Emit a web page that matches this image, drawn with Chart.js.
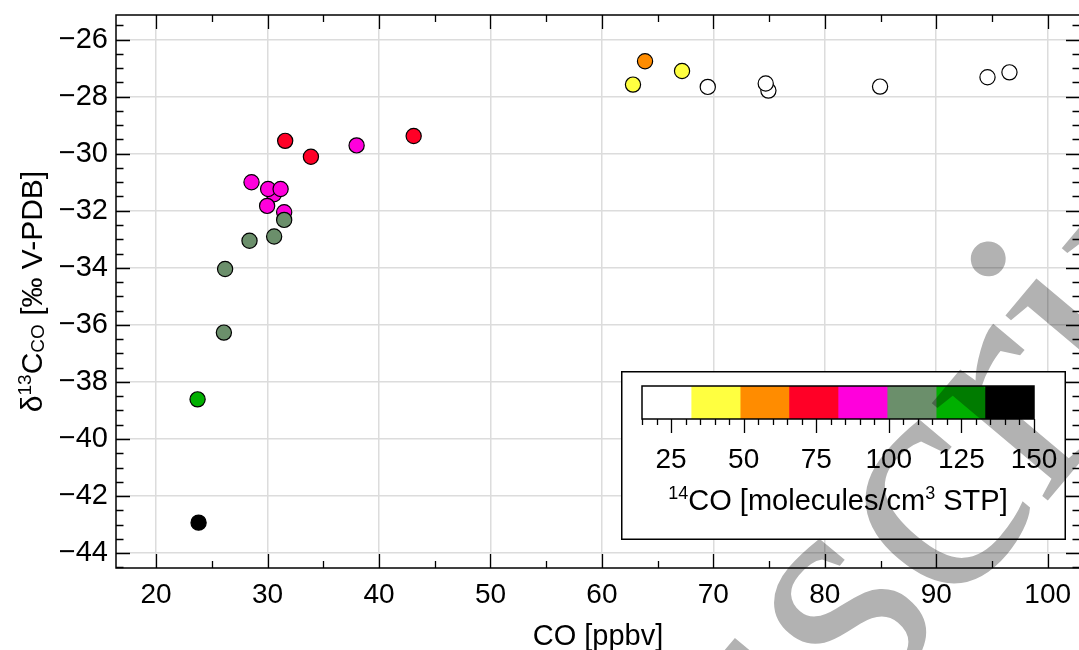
<!DOCTYPE html>
<html>
<head>
<meta charset="utf-8">
<script src="https://cdn.jsdelivr.net/npm/chart.js@4.4.1/dist/chart.umd.min.js"></script>
<style>
  html, body { margin: 0; padding: 0; background: #fff; overflow: hidden; }
  #wrap { position: relative; width: 1079px; height: 650px; overflow: hidden; background: #fff; }
  #main { position: absolute; left: 0; top: 0; }
  #bar { position: absolute; left: 621px; top: 371px; background: #fff; }
  #mark { position: absolute; left: 0; top: 0; mix-blend-mode: multiply; pointer-events: none; }
</style>
</head>
<body>
<div id="wrap">
  <canvas id="main" width="1090" height="650"></canvas>
  <canvas id="bar" width="445" height="169"></canvas>
  <canvas id="mark" width="1079" height="650"></canvas>
</div>
<script>
// CO mixing ratio [ppbv] and d13C of CO [permil V-PDB], one entry per sample
const coPpbv = [69.50, 74.94, 74.70, 84.96, 94.60, 96.57,
                62.79, 67.19,
                63.87,
                31.58, 33.89, 43.11,
                30.57, 28.56, 30.05, 31.17, 29.96, 31.49, 37.99,
                31.49, 30.59, 28.38, 26.19, 26.08,
                23.72,
                23.81];
const d13C = [-27.66, -27.79, -27.54, -27.65, -27.32, -27.15,
              -27.58, -27.10,
              -26.76,
              -29.55, -30.11, -29.38,
              -31.42, -31.00, -31.24, -31.24, -31.83, -32.05, -29.71,
              -32.32, -32.90, -33.05, -34.04, -36.27,
              -38.61,
              -42.93];
// 14CO colour class of each sample (index into classColors)
const c14Class = [0, 0, 0, 0, 0, 0,
                  1, 1,
                  2,
                  3, 3, 3,
                  4, 4, 4, 4, 4, 4, 4,
                  5, 5, 5, 5, 5,
                  6,
                  7];

const classEdges = [15, 31.9, 48.8, 65.6, 82.5, 99.4, 116.3, 133.1, 150];
const classColors = ['#ffffff', '#ffff40', '#ff8c00', '#ff0026', '#ff00dc', '#6b8f6b', '#00b000', '#000000'];

const xTicks = [20, 30, 40, 50, 60, 70, 80, 90, 100];
const yTicks = [-44, -42, -40, -38, -36, -34, -32, -30, -28, -26];
const barTicks = [25, 50, 75, 100, 125, 150];

const FONT = '"Liberation Sans", Arial, Helvetica, sans-serif';

function drawRich(ctx, parts, cx, baseY, size) {
    const fontFor = k => (k === 'n' ? size : Math.round(size * 0.62)) + 'px ' + FONT;
    let total = 0;
    parts.forEach(p => {
        ctx.font = fontFor(p[1]);
        total += ctx.measureText(p[0]).width;
    });
    let x = cx - total / 2;
    ctx.textAlign = 'left';
    ctx.textBaseline = 'alphabetic';
    parts.forEach(p => {
        ctx.font = fontFor(p[1]);
        let dy = 0;
        if (p[1] === 'sup') dy = -size * 0.37;
        if (p[1] === 'sub') dy = size * 0.05;
        ctx.fillText(p[0], x, baseY + dy);
        x += ctx.measureText(p[0]).width;
    });
}

const mainDecor = {
    id: 'mainDecor',
    afterDraw(chart) {
        const { ctx, chartArea: a, scales: { x, y } } = chart;
        ctx.save();
        ctx.strokeStyle = '#000';
        ctx.lineWidth = 1.3;
        ctx.beginPath();
        for (let v = 20; v <= 100; v += 5) {
            const px = Math.round(x.getPixelForValue(v)) + 0.5;
            const len = v % 10 === 0 ? 14 : 7;
            ctx.moveTo(px, a.bottom); ctx.lineTo(px, a.bottom - len);
            ctx.moveTo(px, a.top); ctx.lineTo(px, a.top + len);
        }
        for (let v = -44.5; v <= -25.5; v += 0.5) {
            const py = Math.round(y.getPixelForValue(v)) + 0.5;
            const len = v % 2 === 0 ? 14 : 7.5;
            ctx.moveTo(a.left, py); ctx.lineTo(a.left + len, py);
            ctx.moveTo(a.right, py); ctx.lineTo(a.right - len, py);
        }
        ctx.stroke();
        ctx.lineWidth = 1.5;
        ctx.strokeRect(a.left, a.top, a.right - a.left, a.bottom - a.top);

        ctx.fillStyle = '#000';
        ctx.font = '29px ' + FONT;
        ctx.textAlign = 'center';
        ctx.textBaseline = 'alphabetic';
        ctx.fillText('CO [ppbv]', (a.left + a.right) / 2, 645);

        ctx.translate(42, (a.top + a.bottom) / 2);
        ctx.rotate(-Math.PI / 2);
        drawRich(ctx, [['\u03b4', 'n'], ['13', 'sup'], ['C', 'n'], ['CO', 'sub'], [' [\u2030 V-PDB]', 'n']], 0, 0, 30);
        ctx.restore();
    }
};

const barDecor = {
    id: 'barDecor',
    afterDraw(chart) {
        const { ctx, chartArea: a, scales: { x } } = chart;
        ctx.save();
        ctx.strokeStyle = '#000';
        ctx.lineWidth = 1.3;
        ctx.beginPath();
        for (let v = 15; v <= 150; v += 5) {
            const px = Math.round(x.getPixelForValue(v)) + 0.5;
            const len = v % 25 === 0 ? 14 : 6;
            ctx.moveTo(px, a.bottom); ctx.lineTo(px, a.bottom + len);
        }
        ctx.stroke();
        ctx.lineWidth = 1.5;
        ctx.strokeRect(a.left, a.top, a.right - a.left, a.bottom - a.top);
        ctx.strokeRect(0.75, 0.75, chart.width - 1.5, chart.height - 1.5);

        ctx.fillStyle = '#000';
        ctx.font = '28px ' + FONT;
        ctx.textAlign = 'center';
        ctx.textBaseline = 'alphabetic';
        barTicks.forEach(v => ctx.fillText(String(v), x.getPixelForValue(v), 97));
        drawRich(ctx, [['14', 'sup'], ['CO [molecules/cm', 'n'], ['3', 'sup'], [' STP]', 'n']],
            (a.left + a.right) / 2, 139, 29);
        ctx.restore();
    }
};

new Chart(document.getElementById('main'), {
    type: 'scatter',
    data: {
        datasets: [{
            data: coPpbv.map((v, i) => ({ x: v, y: d13C[i] })),
            backgroundColor: c14Class.map(c => classColors[c]),
            borderColor: '#000',
            borderWidth: 1.2,
            pointRadius: 7.6,
            pointHoverRadius: 7.6
        }]
    },
    options: {
        responsive: false,
        animation: false,
        events: [],
        layout: { padding: { top: 15, right: 10, left: 0, bottom: 0 } },
        plugins: { legend: { display: false }, tooltip: { enabled: false } },
        scales: {
            x: {
                type: 'linear',
                min: 16.4,
                max: 102.9,
                afterBuildTicks: s => { s.ticks = xTicks.map(v => ({ value: v })); },
                afterFit: s => { s.height = 82; },
                grid: { color: '#dcdcdc', lineWidth: 1.5, drawTicks: false },
                border: { display: false },
                ticks: { color: '#000', padding: 10, maxRotation: 0, font: { family: FONT, size: 28 } }
            },
            y: {
                type: 'linear',
                min: -44.52,
                max: -25.14,
                afterBuildTicks: s => { s.ticks = yTicks.map(v => ({ value: v })); },
                afterFit: s => { s.width = 116; },
                grid: { color: '#dcdcdc', lineWidth: 1.5, drawTicks: false },
                border: { display: false },
                ticks: {
                    color: '#000', padding: 8, font: { family: FONT, size: 29, lineHeight: 0.4 },
                    callback: v => String(v).replace('-', '\u2212')
                }
            }
        }
    },
    plugins: [mainDecor]
});

new Chart(document.getElementById('bar'), {
    type: 'bar',
    data: {
        labels: [''],
        datasets: classColors.map((c, i) => ({
            data: [[classEdges[i], classEdges[i + 1]]],
            backgroundColor: c,
            borderWidth: 0,
            barPercentage: 1,
            categoryPercentage: 1,
            grouped: false
        }))
    },
    options: {
        indexAxis: 'y',
        responsive: false,
        animation: false,
        events: [],
        layout: { padding: { top: 15, right: 32, left: 21, bottom: 0 } },
        plugins: { legend: { display: false }, tooltip: { enabled: false } },
        scales: {
            x: {
                type: 'linear',
                min: 15,
                max: 150,
                afterBuildTicks: s => { s.ticks = barTicks.map(v => ({ value: v })); },
                afterFit: s => { s.height = 121; },
                grid: { display: false },
                border: { display: false },
                ticks: { display: false }
            },
            y: { display: false }
        }
    },
    plugins: [barDecor]
});

// grey "Manuscript" watermark lying over the figure
const mark = document.getElementById('mark').getContext('2d');
mark.save();
mark.fillStyle = 'rgb(178,178,178)';
mark.font = '330px "Liberation Serif", "Times New Roman", serif';
mark.translate(372, 1306);
mark.rotate(-50 * Math.PI / 180);
mark.fillText('Manuscript', 0, 0);
mark.restore();
</script>
</body>
</html>
